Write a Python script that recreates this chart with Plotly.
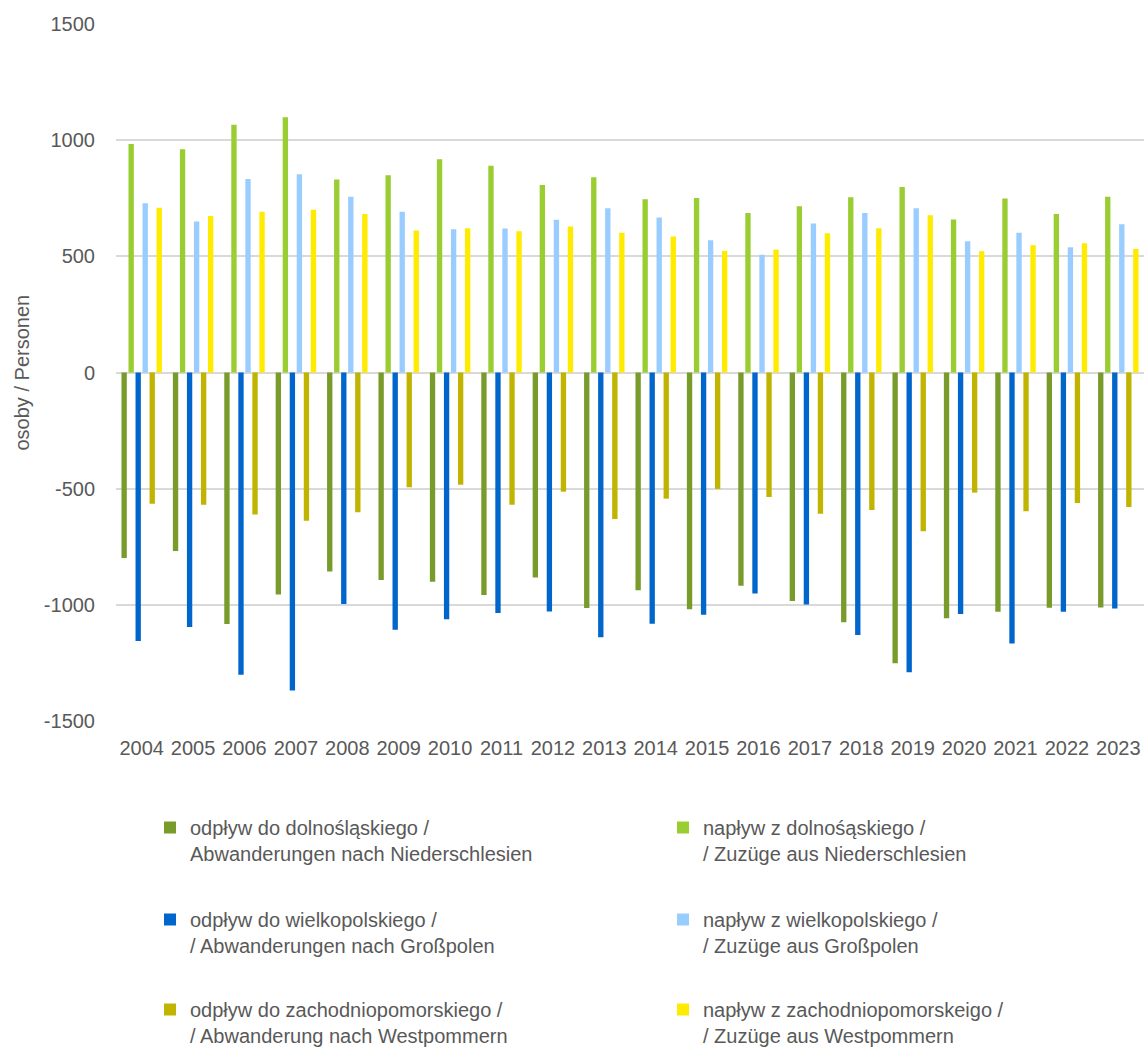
import plotly.graph_objects as go

years = [str(y) for y in range(2004, 2024)]

odplyw_dolnoslaskie = [-798, -768, -1082, -955, -857, -893, -901, -958, -882, -1014,
                       -937, -1019, -918, -983, -1075, -1251, -1058, -1030, -1013, -1012]
naplyw_dolnoslaskie = [983, 961, 1066, 1099, 831, 849, 918, 890, 807, 840,
                       746, 751, 686, 716, 754, 798, 658, 749, 682, 756]
odplyw_wielkopolskie = [-1156, -1095, -1301, -1369, -996, -1107, -1062, -1035, -1029, -1140,
                        -1081, -1043, -951, -999, -1130, -1290, -1039, -1166, -1030, -1016]
naplyw_wielkopolskie = [728, 650, 833, 853, 756, 692, 617, 620, 657, 707,
                        667, 569, 507, 641, 686, 707, 565, 602, 539, 638]
odplyw_zachodniopomorskie = [-565, -569, -611, -638, -601, -494, -483, -569, -513, -631,
                             -543, -501, -536, -608, -592, -683, -517, -597, -562, -579]
naplyw_zachodniopomorskie = [709, 674, 692, 700, 682, 611, 621, 608, 628, 602,
                             585, 523, 529, 599, 621, 677, 522, 548, 556, 532]

series_names = [
    "odpływ do dolnośląskiego /<br>Abwanderungen nach Niederschlesien",
    "napływ z dolnośąskiego /<br>/ Zuzüge aus Niederschlesien",
    "odpływ do wielkopolskiego /<br>/ Abwanderungen nach Großpolen",
    "napływ z wielkopolskiego /<br>/ Zuzüge aus Großpolen",
    "odpływ do zachodniopomorskiego /<br>/ Abwanderung nach Westpommern",
    "napływ z zachodniopomorskeigo /<br>/ Zuzüge aus Westpommern",
]
series_values = [odplyw_dolnoslaskie, naplyw_dolnoslaskie, odplyw_wielkopolskie,
                 naplyw_wielkopolskie, odplyw_zachodniopomorskie, naplyw_zachodniopomorskie]
colors = ["#789B2C", "#9ACD32", "#0066CC", "#99CCFF", "#C0B400", "#FFEB00"]
legend_ids = ["legend", "legend", "legend2", "legend2", "legend3", "legend3"]

y_tick_values = [-1500, -1000, -500, 0, 500, 1000, 1500]
y_tick_labels = ["-1500", "-1000", "-500", "0", "500", "1000", "1500"]
y_title = "osoby / Personen"

FONT = "Liberation Sans, Arial, sans-serif"
TXT = "#595959"
FS = 20

fig = go.Figure()
for name, vals, col, lg in zip(series_names, series_values, colors, legend_ids):
    fig.add_trace(go.Bar(x=years, y=vals, name=name,
                         marker=dict(color=col, line=dict(width=0)), legend=lg))

W, H = 1144, 1050
ml, mr, mt, mb = 116, 0, 24, 329
pw = W - ml - mr
ph = H - mt - mb


def px_to_paper_y(py):
    return (H - mb - py) / ph


def px_to_paper_x(px):
    return (px - ml) / pw


leg_common = dict(orientation="h", xanchor="left", yanchor="top",
                  x=px_to_paper_x(150), entrywidth=468, entrywidthmode="pixels",
                  font=dict(family=FONT, size=FS, color=TXT), valign="top",
                  bgcolor="rgba(0,0,0,0)", itemclick=False, itemdoubleclick=False)

fig.update_layout(
    width=W, height=H,
    margin=dict(l=ml, r=mr, t=mt, b=mb, autoexpand=False),
    paper_bgcolor="white", plot_bgcolor="white",
    barmode="group", bargap=0.18, bargroupgap=0.24,
    font=dict(family=FONT, size=FS, color=TXT),
    legend=dict(**leg_common, y=px_to_paper_y(808)),
    legend2=dict(**leg_common, y=px_to_paper_y(900)),
    legend3=dict(**leg_common, y=px_to_paper_y(990)),
    xaxis=dict(type="category", showgrid=False, showline=False, ticks="",
               tickfont=dict(family=FONT, size=FS, color=TXT), ticklabelstandoff=13),
    yaxis=dict(range=[-1500, 1500], tickvals=y_tick_values, ticktext=y_tick_labels,
               showgrid=True, gridcolor="#D9D9D9", gridwidth=1.5,
               zeroline=True, zerolinecolor="#D9D9D9", zerolinewidth=1.5,
               showline=False, ticks="", tickfont=dict(family=FONT, size=FS, color=TXT),
               ticklabelstandoff=20),
    annotations=[dict(text=y_title, textangle=-90, xref="paper", yref="paper",
                      x=px_to_paper_x(21), y=0.5, xanchor="center", yanchor="middle",
                      showarrow=False, font=dict(family=FONT, size=FS, color=TXT))],
)

fig.write_html("out.html", config={"displayModeBar": False},
               post_script="document.body.style.margin='0';document.body.style.padding='0';")
